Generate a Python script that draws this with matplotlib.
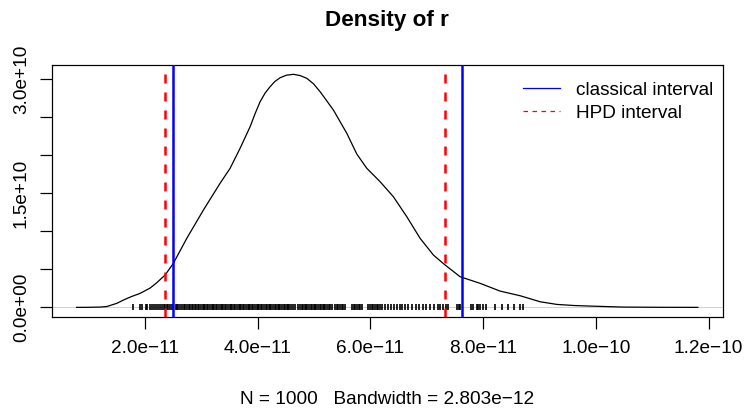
import matplotlib
matplotlib.use("Agg")
import matplotlib.pyplot as plt
from matplotlib.lines import Line2D

plt.rcParams["font.family"] = ["Liberation Sans", "DejaVu Sans"]

# density curve (x in 1e-11, density in 1e10)
dens_x = [0.783, 1.000, 1.200, 1.319, 1.497, 1.614, 1.750, 1.910, 2.088, 2.200,
          2.354, 2.501, 2.739, 3.034, 3.330, 3.508, 3.685, 3.863, 3.950, 4.040,
          4.130, 4.218, 4.300, 4.395, 4.510, 4.632, 4.750, 4.870, 4.990, 5.106,
          5.342, 5.580, 5.757, 5.935, 6.171, 6.407, 6.645, 6.881, 7.117, 7.325,
          7.591, 7.946, 8.301, 8.656, 9.011, 9.308, 9.600, 9.899, 10.485, 11.14, 11.81]
dens_y = [0.0, 0.001, 0.004, 0.011, 0.053, 0.096, 0.140, 0.184, 0.254, 0.320,
          0.425, 0.579, 0.908, 1.280, 1.632, 1.829, 2.092, 2.376, 2.545, 2.705,
          2.820, 2.903, 2.970, 3.021, 3.055, 3.066, 3.050, 3.013, 2.940, 2.837,
          2.596, 2.289, 2.017, 1.829, 1.653, 1.455, 1.192, 0.908, 0.688, 0.557,
          0.403, 0.316, 0.214, 0.153, 0.074, 0.039, 0.025, 0.017, 0.004, 0.001, 0.0]

# sample positions shown as a rug (1e-11)
rug_x = [1.78, 1.91, 1.95, 2.02, 2.04, 2.09, 2.12, 2.16, 2.19, 2.22, 2.27, 2.30,
         2.33, 2.36, 2.38, 2.41, 2.45, 2.47, 2.50, 2.54, 2.56, 2.59, 2.62, 2.66,
         2.69, 2.71, 2.74, 2.77, 2.80, 2.83, 2.85, 2.88, 2.91, 2.94, 2.96, 2.99,
         3.02, 3.04, 3.07, 3.10, 3.12, 3.15, 3.18, 3.20, 3.23, 3.26, 3.28, 3.31,
         3.34, 3.36, 3.39, 3.42, 3.44, 3.47, 3.50, 3.52, 3.55, 3.58, 3.60, 3.63,
         3.66, 3.68, 3.71, 3.74, 3.76, 3.79, 3.82, 3.84, 3.87, 3.90, 3.92, 3.95,
         3.98, 4.00, 4.03, 4.06, 4.08, 4.11, 4.14, 4.16, 4.19, 4.22, 4.24, 4.27,
         4.30, 4.32, 4.35, 4.38, 4.40, 4.43, 4.46, 4.48, 4.51, 4.54, 4.56, 4.59,
         4.62, 4.66, 4.72, 4.75, 4.78, 4.80, 4.83, 4.86, 4.88, 4.91, 4.94, 4.96,
         4.99, 5.02, 5.04, 5.07, 5.10, 5.12, 5.15, 5.18, 5.20, 5.23, 5.26, 5.29,
         5.31, 5.37, 5.40, 5.43, 5.46, 5.49, 5.52, 5.55, 5.67, 5.70, 5.73, 5.76,
         5.79, 5.82, 5.85, 5.96, 5.99, 6.02, 6.05, 6.08, 6.11, 6.14, 6.17, 6.20,
         6.25, 6.31, 6.36, 6.42, 6.47, 6.52, 6.56, 6.61, 6.66, 6.73, 6.80, 6.86,
         6.93, 6.98, 7.05, 7.12, 7.19, 7.24, 7.29, 7.34, 7.38, 7.54, 7.57, 7.59,
         7.79, 7.82, 7.89, 7.91, 7.95, 8.00, 8.05, 8.21, 8.34, 8.44, 8.55, 8.66, 8.71]

classical = [2.491, 7.621]
hpd = [2.355, 7.316]

x_ticks = [2, 4, 6, 8, 10, 12]
x_labels = ["2.0e\u221211", "4.0e\u221211", "6.0e\u221211", "8.0e\u221211",
            "1.0e\u221210", "1.2e\u221210"]
y_ticks = [0, 0.5, 1.0, 1.5, 2.0, 2.5, 3.0]
y_labels = ["0.0e+00", "", "", "1.5e+10", "", "", "3.0e+10"]

fs = 13.7

fig = plt.figure(figsize=(7.45, 4.08), dpi=100)
ax = fig.add_axes([51.7 / 745, 1 - 316.7 / 408, 671 / 745, 251.7 / 408])

ax.axhline(0, color="#BEBEBE", lw=0.5, zorder=1)
ax.plot(dens_x, dens_y, color="black", lw=0.9, zorder=3)
ax.plot(rug_x, [0] * len(rug_x), linestyle="none", marker="|", ms=3.8,
        mew=1.2, color="black", zorder=2)

for v in classical:
    ax.axvline(v, color="#0000FF", lw=1.8, zorder=4)
for v in hpd:
    ax.axvline(v, color="#FF0000", lw=1.8, dashes=(3.6, 3.6), zorder=4)

# R-style 4% padding
xr = max(dens_x) - min(dens_x)
yr = max(dens_y) - min(dens_y)
ax.set_xlim(min(dens_x) - 0.04 * xr, max(dens_x) + 0.04 * xr)
ax.set_ylim(min(dens_y) - 0.04 * yr, max(dens_y) + 0.04 * yr)

ax.set_xticks(x_ticks)
ax.set_xticklabels(x_labels)
ax.set_yticks(y_ticks)
ax.set_yticklabels(y_labels)
for lab in ax.get_yticklabels():
    lab.set_rotation(90)
    lab.set_va("center")
ax.tick_params(axis="both", length=8.4, width=0.88, labelsize=fs)
ax.tick_params(axis="x", pad=8.5)
ax.tick_params(axis="y", pad=7.3)
for sp in ax.spines.values():
    sp.set_linewidth(0.88)

ax.set_title("Density of r", fontsize=16.2, fontweight="bold", pad=28.4)
fig.text((51.7 + 722.7) / 2 / 745, 1 - 403.5 / 408,
         "N = 1000   Bandwidth = 2.803e\u221212", ha="center", va="baseline",
         fontsize=fs)

handles = [Line2D([], [], color="#0000FF", lw=0.9),
           Line2D([], [], color="#FF0000", lw=0.9, dashes=(3.6, 3.6))]
ax.legend(handles, ["classical interval", "HPD interval"], loc="upper right",
          bbox_to_anchor=(1 - 4 / 671, 1 - 11 / 251.7),
          frameon=False, fontsize=fs, borderaxespad=0, borderpad=0.3,
          handlelength=1.9, handletextpad=0.85, labelspacing=0.3)

plt.savefig("out.png", dpi=100)
